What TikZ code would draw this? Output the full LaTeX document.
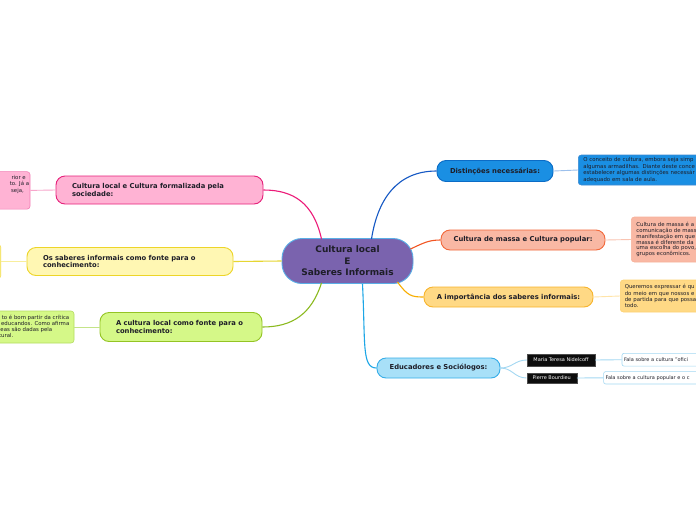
\documentclass[tikz,border=0pt]{standalone}
\usepackage{fontspec}
\setmainfont{DejaVu Sans}
\usetikzlibrary{calc}
\definecolor{cFill}{HTML}{7A63AE}
\definecolor{cBorder}{HTML}{5AAEE6}
\definecolor{txt}{HTML}{1E1E28}
\definecolor{blueF}{HTML}{1A8FE3}
\definecolor{blueB}{HTML}{0B6CC6}
\definecolor{blueC}{HTML}{1558C4}
\definecolor{blueL}{HTML}{9CC0EC}
\definecolor{salF}{HTML}{F9B8A4}
\definecolor{salB}{HTML}{F2683A}
\definecolor{salC}{HTML}{F25522}
\definecolor{salL}{HTML}{F9C4B2}
\definecolor{oraF}{HTML}{FFD985}
\definecolor{oraB}{HTML}{F7B42C}
\definecolor{oraC}{HTML}{F8AE00}
\definecolor{oraL}{HTML}{FFE4A8}
\definecolor{lbF}{HTML}{A8E0F8}
\definecolor{lbB}{HTML}{36ADE8}
\definecolor{lbC}{HTML}{1CA6E6}
\definecolor{lbL}{HTML}{A4D8F2}
\definecolor{pinkF}{HTML}{FFB3D4}
\definecolor{pinkB}{HTML}{E6207A}
\definecolor{pinkC}{HTML}{EC1A78}
\definecolor{pinkL}{HTML}{F7A6CB}
\definecolor{pinkD}{HTML}{F27FB5}
\definecolor{yelF}{HTML}{FFF7B3}
\definecolor{yelB}{HTML}{EDD528}
\definecolor{yelC}{HTML}{E6D632}
\definecolor{yelL}{HTML}{F8EE9C}
\definecolor{grnF}{HTML}{D5F888}
\definecolor{grnB}{HTML}{94C424}
\definecolor{grnC}{HTML}{8CBA20}
\definecolor{grnL}{HTML}{C4E488}
\definecolor{grnD}{HTML}{B4DC60}
\begin{document}
\begin{tikzpicture}[x=1pt,y=-1pt,
  mainbox/.style={draw, line width=0.9pt, rounded corners=9pt, inner sep=0pt,
    font=\fontsize{6.8}{7.8}\selectfont\bfseries, text=txt},
  detbox/.style={draw, line width=0.6pt, rounded corners=3pt, inner sep=0pt},
  dettext/.style={font=\fontsize{5.4}{6.4}\selectfont, inner sep=0pt, text=txt},
  blkbox/.style={fill=black!95, draw=black!70, line width=0.4pt, inner sep=0pt,
    font=\fontsize{5}{6}\selectfont, text=white},
  wbox/.style={fill=white, draw=lbL, line width=0.6pt, rounded corners=2pt, inner sep=0pt,
    font=\fontsize{5}{6}\selectfont, text=txt, anchor=west, text width=96pt, align=left},
  conn/.style={line width=1.1pt},
  subconn/.style={line width=0.9pt}]
\useasboundingbox (0,0) rectangle (696,520);
\clip (0,0) rectangle (696,520);
\fill[white] (0,0) rectangle (696,520);

% centre
\node[draw=cBorder, fill=cFill, line width=0.9pt, rounded corners=20pt,
  minimum width=131pt, minimum height=45pt, inner sep=0pt, align=center,
  font=\fontsize{9}{11.4}\selectfont\bfseries, text=txt] (c) at (347.5,261)
  {Cultura local\\E\\Saberes Informais};

% right main branches
\node[mainbox, fill=blueF, draw=blueB, minimum width=116pt, minimum height=21pt] (n1) at (495,171) {Distinções necessárias:};
\node[mainbox, fill=salF, draw=salB, minimum width=164pt, minimum height=20pt] (n2) at (523,240) {Cultura de massa e Cultura popular:};
\node[mainbox, fill=oraF, draw=oraB, minimum width=169pt, minimum height=20pt] (n3) at (508.5,297) {A importância dos saberes informais:};
\node[mainbox, fill=lbF, draw=lbB, minimum width=123pt, minimum height=20pt] (n4) at (438.5,368) {Educadores e Sociólogos:};

% left main branches
\node[mainbox, fill=pinkF, draw=pinkB, minimum width=207pt, minimum height=28pt, text width=175pt, align=left] (n5) at (159.5,190)
  {Cultura local e Cultura formalizada pela\\sociedade:};
\node[mainbox, fill=yelF, draw=yelB, minimum width=206pt, minimum height=28pt, text width=174pt, align=left] (n6) at (130,261.5)
  {Os saberes informais como fonte para o\\conhecimento:};
\node[mainbox, fill=grnF, draw=grnB, minimum width=162pt, minimum height=29pt, text width=130pt, align=left] (n7) at (181,327)
  {A cultura local como fonte para o\\conhecimento:};

% right details
\node[detbox, dettext, fill=blueF, draw=blueB!80, anchor=west, minimum width=160pt, minimum height=30pt,
  text width=150pt, align=left, font=\fontsize{5.4}{6.8}\selectfont] (d1) at (578,170)
  {O conceito de cultura, embora seja simp\\algumas armadilhas. Diante deste conce\\estabelecer algumas distinções necessár\\adequado em sala de aula.};
\node[detbox, dettext, fill=salF, draw=salL!80!salB, anchor=west, minimum width=120pt, minimum height=45pt,
  text width=110pt, align=left, font=\fontsize{5.4}{5.9}\selectfont] (d2) at (631,239.5)
  {Cultura de massa é a\\comunicação de mass\\manifestação em que\\massa é diferente da\\uma escolha do povo,\\grupos econômicos.};
\node[detbox, dettext, fill=oraF, draw=oraF!80!oraB, anchor=west, minimum width=120pt, minimum height=32pt,
  text width=111pt, align=left, font=\fontsize{5.4}{6.2}\selectfont] (d3) at (620,296)
  {Queremos expressar é qu\\do meio em que nossos e\\de partida para que possa\\todo.};

% educadores children
\node[blkbox, minimum width=68pt, minimum height=12pt] (m1) at (561,360) {Maria Teresa Nidelcoff};
\node[blkbox, minimum width=50pt, minimum height=10pt] (m2) at (551.7,378) {Pierre Bourdieu};
\node[wbox, minimum width=100pt, minimum height=12.7pt] (e1) at (621.7,359.7) {Fala sobre a cultura "ofici};
\node[wbox, minimum width=100pt, minimum height=12.3pt] (e2) at (603.3,377.8) {Fala sobre a cultura popular e o c};

% left details
\node[detbox, fill=pinkF, draw=pinkD, minimum width=60pt, minimum height=37.5pt] (d5) at (0,190.4) {};
\node[dettext, anchor=north east, align=right, font=\fontsize{5.4}{6.5}\selectfont] (d5t) at (29.3,175)
  {rior e\rule{3.3pt}{0pt}\\to. Já a\\seja,\rule{5.3pt}{0pt}};
\node[detbox, fill=yelF, draw=yelB!80, minimum width=60pt, minimum height=34pt] (d6) at (-29.2,261.5) {};
\node[detbox, fill=grnF, draw=grnD, minimum width=100pt, minimum height=32pt] (d7) at (24,327) {};
\node[dettext, anchor=north east, align=right, font=\fontsize{5.4}{6}\selectfont] (d7t) at (69.5,315)
  {to é bom partir da crítica\\educandos. Como afirma\\eas são dadas pela\rule{17pt}{0pt}\\tural.\rule{56pt}{0pt}};

% main connectors
\draw[conn, blueC] ($(c.north)+(24,1)$) .. controls ($(c.north)+(30,-38)$) and ($(n1.west)+(-40,0)$) .. (n1.west);
\draw[conn, salC] ($(c.east)+(-3,-12)$) .. controls ($(c.east)+(10,-18)$) and ($(n2.west)+(-12,0)$) .. (n2.west);
\draw[conn, oraC] ($(c.south)+(50,-2)$) .. controls ($(c.south)+(60,12)$) and ($(n3.west)+(-12,0)$) .. (n3.west);
\draw[conn, lbC] ($(c.south)+(15,0)$) .. controls ($(c.south)+(18,60)$) and ($(n4.west)+(-15,0)$) .. (n4.west);
\draw[conn, pinkC] ($(c.north)+(-26,1)$) .. controls ($(c.north)+(-34,-35)$) and ($(n5.east)+(30,0)$) .. (n5.east);
\draw[conn, yelC] (c.west) -- (n6.east);
\draw[conn, grnC] ($(c.south)+(-26,-1)$) .. controls ($(c.south)+(-36,30)$) and ($(n7.east)+(30,0)$) .. (n7.east);

% sub connectors
\draw[subconn, blueL] (n1.east) -- (d1.west);
\draw[subconn, salL] (n2.east) -- (d2.west);
\draw[subconn, oraL] (n3.east) -- (d3.west);
\draw[subconn, lbL] (n4.east) .. controls ($(n4.east)+(12,0)$) and ($(m1.west)+(-12,0)$) .. (m1.west);
\draw[subconn, lbL] (n4.east) .. controls ($(n4.east)+(12,0)$) and ($(m2.west)+(-12,0)$) .. (m2.west);
\draw[subconn, lbL] (m1.east) -- (e1.west);
\draw[subconn, lbL] (m2.east) -- (e2.west);
\draw[subconn, pinkL] (n5.west) -- (d5.east);
\draw[subconn, yelL] (n6.west) -- (d6.east);
\draw[subconn, grnL] (n7.west) -- (d7.east);
\end{tikzpicture}
\end{document}
